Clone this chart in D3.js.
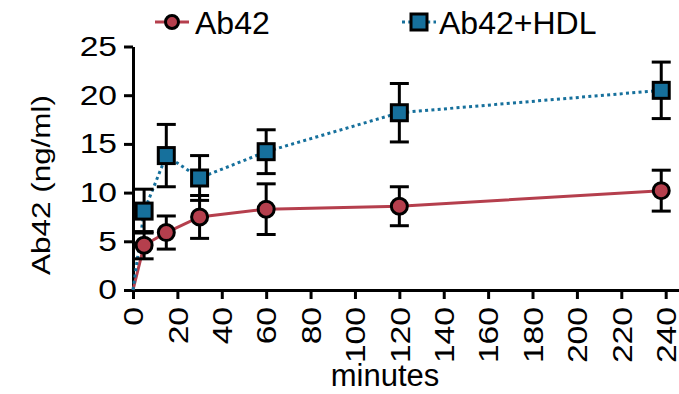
<!DOCTYPE html>
<html>
<head>
<meta charset="utf-8">
<script src="https://cdn.jsdelivr.net/npm/d3@7"></script>
<style>
  html, body { margin: 0; padding: 0; background: #fff; }
  svg text { font-family: "Liberation Sans", Arial, sans-serif; fill: #000; }
</style>
</head>
<body>
<div id="chart"></div>
<script>
// data
const minutes = [5, 15, 30, 60, 120, 238];
const ab42 = [4.6, 5.9, 7.5, 8.3, 8.6, 10.2];
const ab42Err = [1.4, 1.7, 2.2, 2.6, 2.0, 2.1];
const ab42Hdl = [8.1, 13.8, 11.5, 14.2, 18.2, 20.5];
const ab42HdlErr = [2.25, 3.2, 2.3, 2.25, 3.0, 2.9];
const xTicks = [0, 20, 40, 60, 80, 100, 120, 140, 160, 180, 200, 220, 240];
const yTicks = [0, 5, 10, 15, 20, 25];

const W = 679, H = 394;
const RED = '#b53f4d', BLUE = '#16709c';

const svg = d3.select('#chart').append('svg')
    .attr('width', W)
    .attr('height', H);

const x = d3.scaleLinear().domain([0, 246]).range([133, 679]);
const y = d3.scaleLinear().domain([0, 25]).range([290, 46.5]);

// widen text, the original font is broader than Arial
function stretch(sel, k) {
    sel.each(function () {
        const w = this.getComputedTextLength();
        d3.select(this).attr('textLength', w * k).attr('lengthAdjust', 'spacingAndGlyphs');
    });
}

// axes
const xAxis = svg.append('g')
    .attr('transform', `translate(0,${y(0)})`)
    .call(d3.axisBottom(x).tickValues(xTicks).tickSize(9).tickPadding(8).tickSizeOuter(0));
xAxis.selectAll('text')
    .attr('transform', 'rotate(-90)')
    .attr('text-anchor', 'end')
    .attr('x', -17)
    .attr('y', 0)
    .attr('dy', '0.35em');

const yAxis = svg.append('g')
    .attr('transform', `translate(${x(0)},0)`)
    .call(d3.axisLeft(y).tickValues(yTicks).tickSize(9).tickPadding(7).tickSizeOuter(0));

svg.selectAll('.domain, .tick line').attr('stroke', '#000').attr('stroke-width', 3);
const tickText = svg.selectAll('.tick text').attr('font-size', 28)
    .style('font-family', '"Liberation Sans", Arial, sans-serif');
stretch(tickText, 1.2);

// axis titles
svg.append('text')
    .attr('x', 385).attr('y', 386)
    .attr('text-anchor', 'middle')
    .attr('font-size', 31)
    .text('minutes');
const yTitle = svg.append('text')
    .attr('transform', 'translate(50,185) rotate(-90)')
    .attr('text-anchor', 'middle')
    .attr('font-size', 26)
    .text('Ab42 (ng/ml)');
yTitle.attr('textLength', 180).attr('lengthAdjust', 'spacingAndGlyphs');

// series
const series = [
    { name: 'Ab42', vals: ab42, err: ab42Err, color: RED, dash: null, shape: 'circle' },
    { name: 'Ab42+HDL', vals: ab42Hdl, err: ab42HdlErr, color: BLUE, dash: '3,3.3', shape: 'square' }
];

const line = d3.line().x(d => x(d[0])).y(d => y(d[1]));

series.forEach(s => {
    const pts = [[0, 0]].concat(minutes.map((m, i) => [m, s.vals[i]]));
    svg.append('path')
        .datum(pts)
        .attr('fill', 'none')
        .attr('stroke', s.color)
        .attr('stroke-width', 3)
        .attr('stroke-dasharray', s.dash)
        .attr('d', line);
});

function marker(g, shape, color, r) {
    if (shape === 'circle') {
        g.append('circle').attr('r', r).attr('fill', color).attr('stroke', '#000').attr('stroke-width', 3);
    } else {
        g.append('rect').attr('x', -8).attr('y', -8).attr('width', 16).attr('height', 16)
            .attr('fill', color).attr('stroke', '#000').attr('stroke-width', 3);
    }
}

series.forEach(s => {
    const g = svg.append('g');
    minutes.forEach((m, i) => {
        const cx = x(m);
        const lo = y(s.vals[i] - s.err[i]), hi = y(s.vals[i] + s.err[i]);
        const eb = g.append('g').attr('stroke', '#000').attr('stroke-width', 3);
        eb.append('line').attr('x1', cx).attr('x2', cx).attr('y1', lo).attr('y2', hi);
        eb.append('line').attr('x1', cx - 9.5).attr('x2', cx + 9.5).attr('y1', lo).attr('y2', lo);
        eb.append('line').attr('x1', cx - 9.5).attr('x2', cx + 9.5).attr('y1', hi).attr('y2', hi);
    });
    minutes.forEach((m, i) => {
        const mg = g.append('g').attr('transform', `translate(${x(m)},${y(s.vals[i])})`);
        marker(mg, s.shape, s.color, 8);
    });
});

// legend
const legendPos = [{ lx: 155, tx: 195 }, { lx: 402, tx: 439 }];
series.forEach((s, i) => {
    const p = legendPos[i];
    const lg = svg.append('g').attr('transform', `translate(0,22)`);
    lg.append('line').attr('x1', p.lx).attr('x2', p.lx + 34).attr('y1', 0).attr('y2', 0)
        .attr('stroke', s.color).attr('stroke-width', 3).attr('stroke-dasharray', s.dash);
    const mg = lg.append('g').attr('transform', `translate(${p.lx + 17},0)`);
    marker(mg, s.shape, s.color, 6.5);
    lg.append('text').attr('x', p.tx).attr('y', 11.5)
        .attr('font-size', 32).text(s.name);
});
</script>
</body>
</html>
